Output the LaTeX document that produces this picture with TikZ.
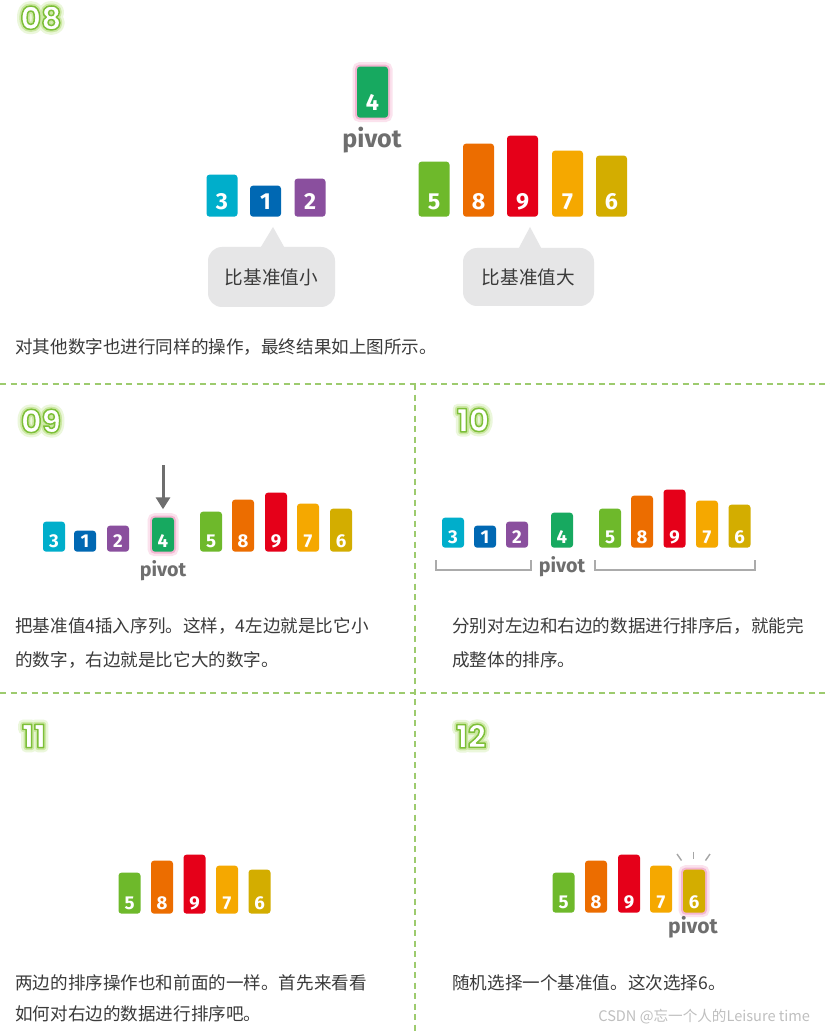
\documentclass[tikz,border=0pt]{standalone}
\usepackage{fontspec}
\usepackage{tikz}
\usetikzlibrary{arrows.meta,positioning,calc}

\setmainfont{Fira Sans}
\newfontfamily\cjk{Noto Sans CJK SC}
\newfontfamily\stepfont{Poppins}

\definecolor{numcyan}{HTML}{00AECB}
\definecolor{numblue}{HTML}{0068B3}
\definecolor{numpurple}{HTML}{8A4F9E}
\definecolor{numgreen}{HTML}{17A960}
\definecolor{numlime}{HTML}{6EB92B}
\definecolor{numorange}{HTML}{EC6D00}
\definecolor{numred}{HTML}{E50019}
\definecolor{numamber}{HTML}{F5A800}
\definecolor{numgold}{HTML}{D3AD00}
\definecolor{pivgray}{HTML}{6E6E6E}
\definecolor{notegray}{HTML}{E6E6E7}
\definecolor{txtgray}{HTML}{3A3A3A}
\definecolor{sepgreen}{HTML}{9DCB6E}
\definecolor{glowpink}{HTML}{F4B6D2}
\definecolor{brkgray}{HTML}{ABABAB}

\newlength\pxu
\setlength\pxu{0.02cm}

% outlined step number with a soft glow (stroked glyphs)
\newcommand\stepnum[1]{%
  \makebox[0pt][l]{\special{pdf:literal direct q 1 Tr 1 j 5.5 w 0.92 0.97 0.86 RG}#1\special{pdf:literal direct Q}}%
  \makebox[0pt][l]{\special{pdf:literal direct q 1 Tr 1 j 2.8 w 0.80 0.91 0.64 RG}#1\special{pdf:literal direct Q}}%
  \textcolor{white}{\special{pdf:literal direct q 2 Tr 1 j 0.85 w 0.49 0.75 0.22 RG}#1\special{pdf:literal direct Q}}}

\begin{document}
\begin{tikzpicture}[
    x=0.02cm, y=-0.02cm,
    numbar/.style={rounded corners=3\pxu, inner sep=0pt, anchor=south, text=white},
    bigbar/.style={numbar, minimum width=31\pxu, text depth=7\pxu, font=\bfseries\fontsize{13.2}{13.2}\selectfont},
    midbar/.style={numbar, minimum width=22\pxu, text depth=4\pxu, font=\bfseries\fontsize{10.6}{10.6}\selectfont},
    pivglow/.style={preaction={draw=glowpink!40, line width=9\pxu}, preaction={draw=glowpink, line width=4\pxu}},
    pivtext/.style={inner sep=0pt, text=pivgray, font=\bfseries\fontsize{#1}{#1}\selectfont},
    stepno/.style={inner sep=0pt, font=\stepfont\bfseries\fontsize{18}{18}\selectfont},
    caption/.style={anchor=west, inner sep=0pt, text=txtgray, font=\cjk\fontsize{10}{12}\selectfont},
    note/.style={fill=notegray, rounded corners=14\pxu, inner sep=0pt, text=txtgray, font=\cjk\fontsize{10.6}{12}\selectfont},
    sepline/.style={draw=sepgreen, line width=1.6\pxu, dash pattern=on 6\pxu off 4.5\pxu},
    brk/.style={draw=brkgray, line width=2\pxu},
    ray/.style={draw=gray!70, line width=1.4\pxu}
  ]
  \fill[white] (0,0) rectangle (830,1033);
  \useasboundingbox (0,0) rectangle (830,1033);

  % 08
  \node[stepno] (s8) at (41,18) {\stepnum{08}};
  \node[bigbar, fill=numcyan, text height=35\pxu] (a3) at (222,217) {3};
  \node[bigbar, fill=numblue, text height=24\pxu] (a1) at (265.5,217) {1};
  \node[bigbar, fill=numpurple, text height=31\pxu] (a2) at (310,217) {2};
  \node[bigbar, fill=numgreen, pivglow, text height=44\pxu] (a4) at (372.5,118) {4};
  \node[bigbar, fill=numlime, text height=48\pxu] (a5) at (434,217) {5};
  \node[bigbar, fill=numorange, text height=66\pxu] (a8) at (478.5,217) {8};
  \node[bigbar, fill=numred, text height=74\pxu] (a9) at (522.5,217) {9};
  \node[bigbar, fill=numamber, text height=59\pxu] (a7) at (567.5,217) {7};
  \node[bigbar, fill=numgold, text height=54\pxu] (a6) at (611.5,217) {6};
  \node[pivtext=14.3] (pa) at (372,140.5) {pivot};

  \node[note, minimum width=127\pxu, minimum height=60\pxu] (lessnote) at (271.5,277) {比基准值小};
  \node[note, minimum width=131\pxu, minimum height=58\pxu] (morenote) at (528.5,277) {比基准值大};
  \coordinate (lesstip) at (273,227);
  \coordinate (moretip) at (530,227);
  \fill[notegray] (lesstip) -- ([xshift=-11\pxu, yshift=-1\pxu]lessnote.north) -- ([xshift=13\pxu, yshift=-1\pxu]lessnote.north) -- cycle;
  \fill[notegray] (moretip) -- ([xshift=-10\pxu, yshift=-1\pxu]morenote.north) -- ([xshift=13\pxu, yshift=-1\pxu]morenote.north) -- cycle;

  \node[caption] (cap8) at (15,347) {对其他数字也进行同样的操作，最终结果如上图所示。};

  % separators
  \draw[sepline] (0,384) -- (830,384);
  \draw[sepline] (0,693) -- (830,693);
  \draw[sepline] (415,384) -- (415,1033);

  % 09
  \node[stepno] (s9) at (41,421) {\stepnum{09}};
  \node[midbar, fill=numcyan, text height=26\pxu] (b3) at (54,552) {3};
  \node[midbar, fill=numblue, text height=17\pxu] (b1) at (85,552) {1};
  \node[midbar, fill=numpurple, text height=22\pxu] (b2) at (118,552) {2};
  \node[midbar, fill=numgreen, pivglow, text height=30\pxu] (b4) at (163,552) {4};
  \node[midbar, fill=numlime, text height=36\pxu] (b5) at (211,552) {5};
  \node[midbar, fill=numorange, text height=48\pxu] (b8) at (243,552) {8};
  \node[midbar, fill=numred, text height=55\pxu] (b9) at (276,552) {9};
  \node[midbar, fill=numamber, text height=44\pxu] (b7) at (308,552) {7};
  \node[midbar, fill=numgold, text height=39\pxu] (b6) at (341,552) {6};
  \node[pivtext=11.2] (pb) at (163,570.5) {pivot};
  \coordinate (arrtop) at (163,465);
  \draw[-{Triangle[width=0.28cm, length=0.24cm]}, draw=pivgray, fill=pivgray, line width=3\pxu, shorten >=8\pxu] (arrtop) -- (b4.north);

  \node[caption] (cap9a) at (15,626) {把基准值4插入序列。这样，4左边就是比它小};
  \node[caption] (cap9b) at (15,660) {的数字，右边就是比它大的数字。};

  % 10
  \node[stepno] (s10) at (473,420) {\stepnum{10}};
  \node[midbar, fill=numcyan, text height=26\pxu] (c3) at (453,548) {3};
  \node[midbar, fill=numblue, text height=18\pxu] (c1) at (485,548) {1};
  \node[midbar, fill=numpurple, text height=22\pxu] (c2) at (517,548) {2};
  \node[midbar, fill=numgreen, text height=31\pxu] (c4) at (562,548) {4};
  \node[midbar, fill=numlime, text height=35\pxu] (c5) at (610,548) {5};
  \node[midbar, fill=numorange, text height=48\pxu] (c8) at (642,548) {8};
  \node[midbar, fill=numred, text height=54\pxu] (c9) at (674.5,548) {9};
  \node[midbar, fill=numamber, text height=43\pxu] (c7) at (707,548) {7};
  \node[midbar, fill=numgold, text height=39\pxu] (c6) at (739.5,548) {6};
  \node[pivtext=11.2] (pc) at (562,566.5) {pivot};
  \draw[brk] (436,560) |- (531,570) -- (531,560);
  \draw[brk] (595,560) |- (755,570) -- (755,560);

  \node[caption] (cap10a) at (452,626) {分别对左边和右边的数据进行排序后，就能完};
  \node[caption] (cap10b) at (452,660) {成整体的排序。};

  % 11
  \node[stepno] (s11) at (34,736) {\stepnum{11}};
  \node[midbar, fill=numlime, text height=37\pxu] (d5) at (129.5,914) {5};
  \node[midbar, fill=numorange, text height=49\pxu] (d8) at (162,914) {8};
  \node[midbar, fill=numred, text height=55\pxu] (d9) at (194.5,914) {9};
  \node[midbar, fill=numamber, text height=44\pxu] (d7) at (227,914) {7};
  \node[midbar, fill=numgold, text height=40\pxu] (d6) at (259.5,914) {6};

  \node[caption] (cap11a) at (15,983) {两边的排序操作也和前面的一样。首先来看看};
  \node[caption] (cap11b) at (15,1014) {如何对右边的数据进行排序吧。};

  % 12
  \node[stepno] (s12) at (471,736) {\stepnum{12}};
  \node[midbar, fill=numlime, text height=36\pxu] (e5) at (563.5,913) {5};
  \node[midbar, fill=numorange, text height=48\pxu] (e8) at (596,913) {8};
  \node[midbar, fill=numred, text height=54\pxu] (e9) at (629,913) {9};
  \node[midbar, fill=numamber, text height=43\pxu] (e7) at (661,913) {7};
  \node[midbar, fill=numgold, pivglow, text height=39\pxu] (e6) at (694,913) {6};
  \node[pivtext=12] (pe) at (693,927.5) {pivot};
  \draw[ray] (677,854) -- (681.5,860.5);
  \draw[ray] (693.5,851.5) -- (693.5,858.5);
  \draw[ray] (710,854) -- (705.5,860.5);

  \node[caption] (cap12) at (452,983) {随机选择一个基准值。这次选择6。};

  \node[anchor=west, inner sep=0pt, text=gray!50, font=\cjk\fontsize{8.3}{10}\selectfont] (mark) at (598,1017) {CSDN @忘一个人的Leisure time};
\end{tikzpicture}
\end{document}
